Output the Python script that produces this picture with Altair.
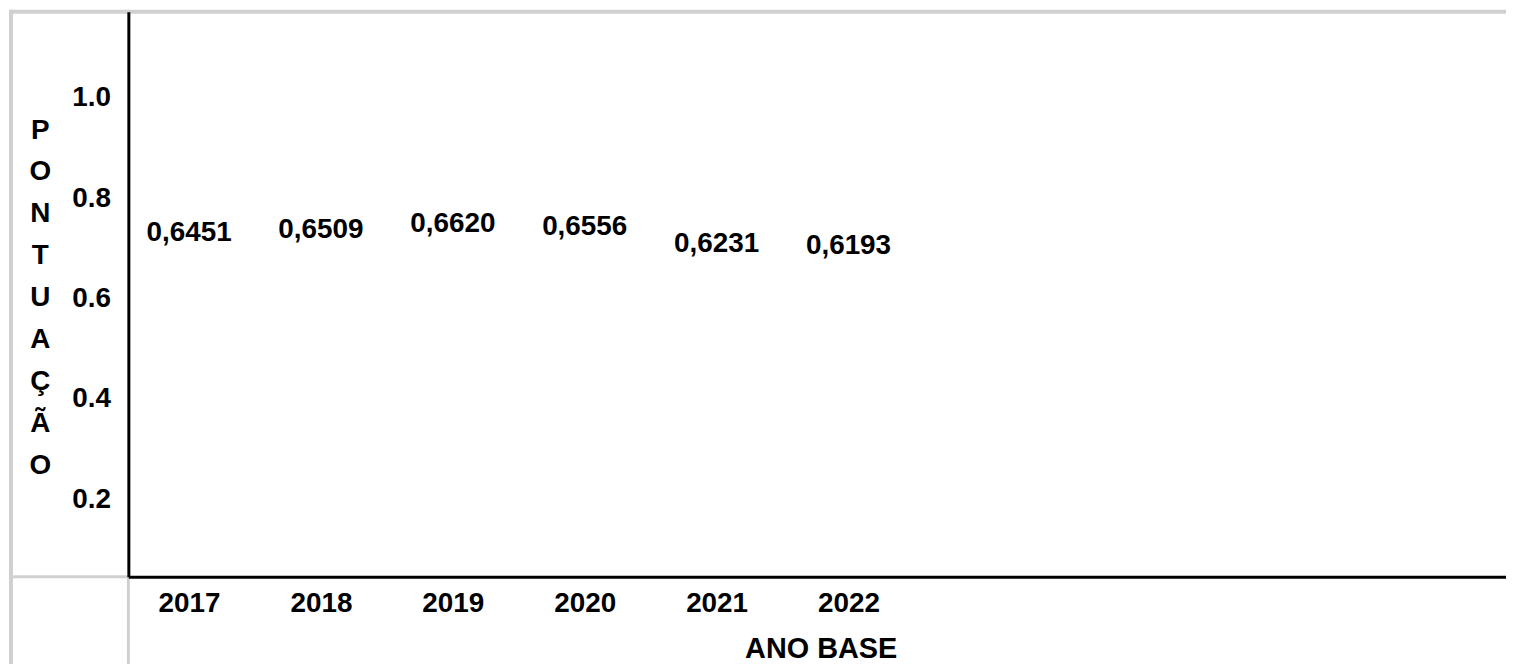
import altair as alt
import pandas as pd

# ---- data ----
years = [2017, 2018, 2019, 2020, 2021, 2022]
scores = [0.6451, 0.6509, 0.6620, 0.6556, 0.6231, 0.6193]
y_ticks = [0.2, 0.4, 0.6, 0.8, 1.0]
y_title_letters = ["P", "O", "N", "T", "U", "A", "Ç", "Ã", "O"]
x_title = "ANO BASE"

df = pd.DataFrame({"ano": years, "pontuacao": scores})

FONT = "Liberation Sans"
W, H = 1385, 568
GRAY = "#d0d0d0"

x_scale = alt.Scale(domain=[2016.54, 2026.985], nice=False, zero=False)
y_scale = alt.Scale(domain=[0.0452, 1.172], nice=False, zero=False)

x_axis = alt.Axis(
    values=years, format="d", title=x_title, grid=False, ticks=False, tickSize=0,
    domain=True, domainColor="black", domainWidth=3,
    labelFont=FONT, labelFontSize=28, labelFontWeight="bold", labelColor="black",
    labelPadding=27, labelBaseline="middle", labelFlush=False, labelOverlap=False,
    titleFont=FONT, titleFontSize=29, titleFontWeight="bold", titleColor="black",
    titleX=696, titleY=72, titleAlign="center", titleBaseline="middle", zindex=1,
)
y_axis = alt.Axis(
    values=y_ticks, format=".1f", title=y_title_letters, titleAngle=0,
    titleX=-89, titleY=119, titleAlign="center", titleBaseline="middle",
    titleLineHeight=42.1, titleFont=FONT, titleFontSize=28, titleFontWeight="bold",
    titleColor="black", grid=False, ticks=False, tickSize=0,
    domain=True, domainColor="black", domainWidth=3,
    labelFont=FONT, labelFontSize=28, labelFontWeight="bold", labelColor="black",
    labelAlign="right", labelBaseline="middle", labelPadding=18, labelFlush=False,
    labelOverlap=False, zindex=1,
)

text = alt.Chart(df).transform_calculate(
    rotulo="replace(format(datum.pontuacao, '.4f'), '.', ',')"
).mark_text(
    font=FONT, fontSize=28, fontWeight="bold", color="black",
    baseline="middle", align="center", dy=-43.5,
).encode(
    x=alt.X("ano:Q", scale=x_scale, axis=x_axis),
    y=alt.Y("pontuacao:Q", scale=y_scale, axis=y_axis),
    text="rotulo:N",
)

one = pd.DataFrame({"k": [0]})


def hrule(x, x2, y, width, color=GRAY):
    return alt.Chart(one).mark_rule(color=color, strokeWidth=width).encode(
        x=alt.value(x), x2=alt.value(x2), y=alt.value(y)
    )


def vrule(x, y, y2, width, color=GRAY):
    return alt.Chart(one).mark_rule(color=color, strokeWidth=width).encode(
        x=alt.value(x), y=alt.value(y), y2=alt.value(y2)
    )


frame = [
    hrule(-120, W, 0, 4),
    vrule(-118, -2, 660, 4),
    hrule(-118, 0, H, 3),
    vrule(0, H, 660, 3),
]

chart = alt.layer(*frame, text).properties(
    width=W, height=H,
    autosize=alt.AutoSizeParams(type="none"),
    padding={"left": 121, "top": 2, "right": 0, "bottom": 86},
    background="white",
).configure_view(stroke=None)

chart.save("out.html", embed_options={"renderer": "svg", "actions": False})
